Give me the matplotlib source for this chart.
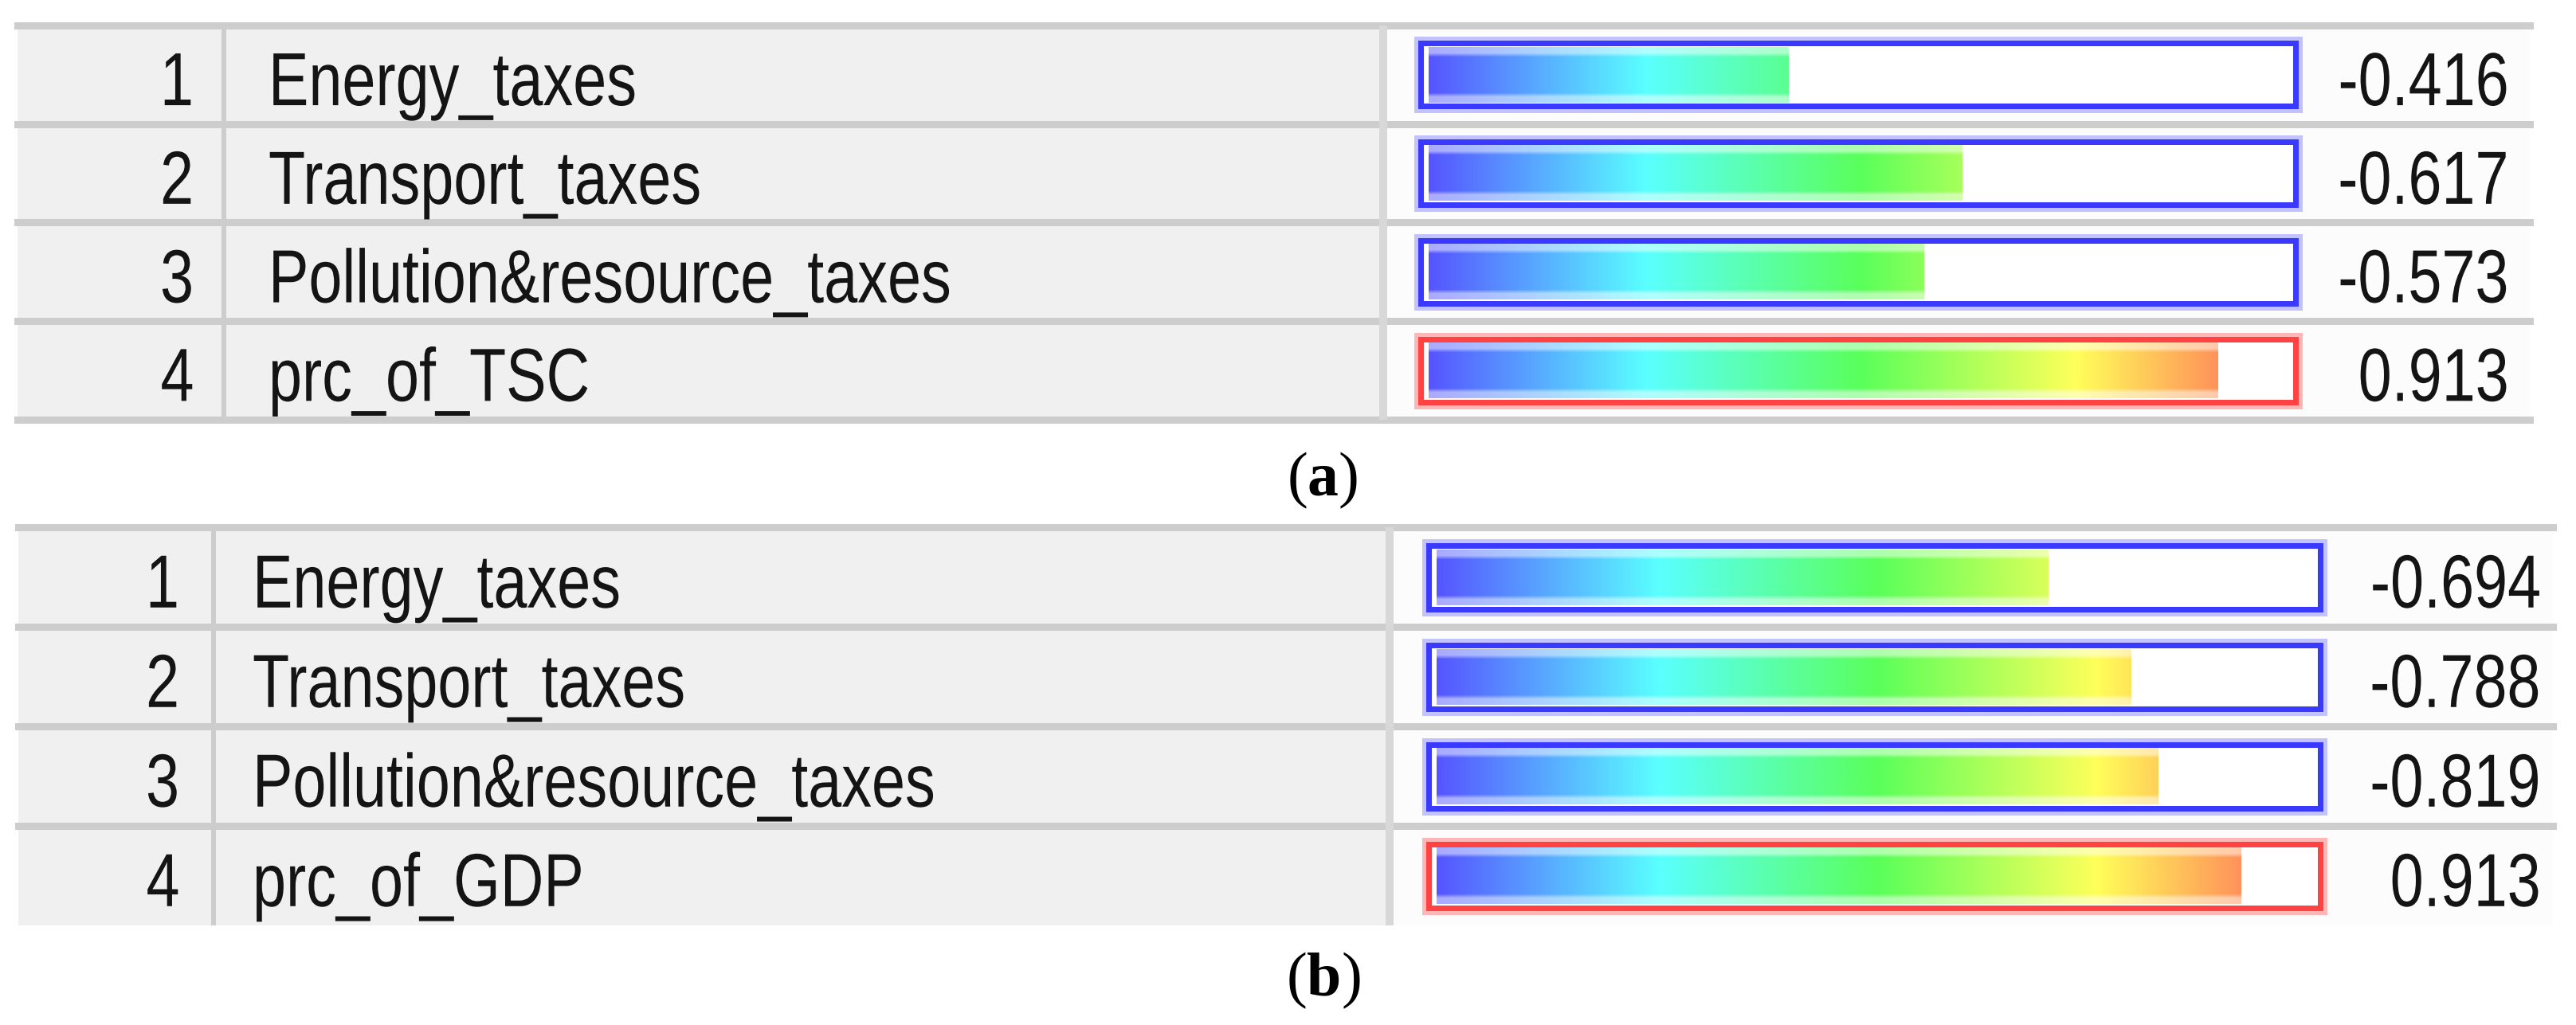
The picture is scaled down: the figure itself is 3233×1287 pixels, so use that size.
import numpy as np
import matplotlib
matplotlib.use('Agg')
import matplotlib.pyplot as plt
from matplotlib.colors import LinearSegmentedColormap
from matplotlib.patches import Rectangle
from matplotlib.patheffects import AbstractPathEffect
from matplotlib.transforms import Affine2D

# ---------------- data ----------------
ranks = [1, 2, 3, 4]
names_a = ['Energy_taxes', 'Transport_taxes', 'Pollution&resource_taxes', 'prc_of_TSC']
values_a = [-0.416, -0.617, -0.573, 0.913]
names_b = ['Energy_taxes', 'Transport_taxes', 'Pollution&resource_taxes', 'prc_of_GDP']
values_b = [-0.694, -0.788, -0.819, 0.913]
captions = ['a', 'b']

# ---------------- setup ----------------
W, H = 3233, 1287
DPI = 100
plt.rcParams['mathtext.fontset'] = 'custom'
plt.rcParams['mathtext.rm'] = 'Liberation Serif'
plt.rcParams['mathtext.bf'] = 'Liberation Serif:bold'
plt.rcParams['mathtext.it'] = 'Liberation Serif:italic'

fig = plt.figure(figsize=(W / DPI, H / DPI), dpi=DPI)
fig.patch.set_facecolor('white')


def px_axes(x0, y0, x1, y1):
    return fig.add_axes([x0 / W, 1 - y1 / H, (x1 - x0) / W, (y1 - y0) / H])


def pt(px):
    return px * 72.0 / DPI


class HScale(AbstractPathEffect):
    """Draw text horizontally condensed (narrow grid font look)."""

    def __init__(self, sx, anchor='left'):
        super().__init__()
        self.sx = sx
        self.anchor = anchor

    def draw_path(self, renderer, gc, tpath, affine, rgbFace=None):
        v = tpath.vertices
        a = 0.0
        if len(v) and self.anchor == 'right':
            a = float(np.nanmax(v[:, 0]))
        pre = Affine2D().translate(-a, 0).scale(self.sx, 1.0).translate(a, 0)
        renderer.draw_path(gc, tpath, pre + affine, rgbFace)


cmap = LinearSegmentedColormap.from_list(
    'grad', [(0, '#5656ff'), (0.25, '#5affff'), (0.5, '#5aff5a'),
             (0.75, '#ffff5a'), (1.0, '#ff5a5a')])

FONT = ['Liberation Sans', 'DejaVu Sans']
FS = 68
SX = 0.80
TXT = '#141414'
SEP = '#cdcdcd'

layouts = [
    dict(left=22, right=3175, top=32, bottom=527, col1=281, col2=1736,
         num_right=244, name_left=337, val_right=3150,
         fill_start=1793, full=1085, bottom_border=True, cap=(1660, 603)),
    dict(left=23, right=3204, top=662, bottom=1162, col1=268, col2=1744,
         num_right=226, name_left=317, val_right=3190,
         fill_start=1803, full=1106, bottom_border=False, cap=(1661, 1231)),
]

panels = [(names_a, values_a), (names_b, values_b)]

for (names, values), L, cap in zip(panels, layouts, captions):
    n = len(names)
    ax = px_axes(L['left'], L['top'], L['right'], L['bottom'])
    ax.set_xlim(L['left'], L['right'])
    ax.set_ylim(n, 0)
    ax.axis('off')
    ax.axvspan(L['left'], L['col2'], color='#f0f0f0', lw=0, zorder=0)
    ax.axvspan(L['col2'], L['right'], color='#fcfcfc', lw=0, zorder=0)
    last = n + 1 if L['bottom_border'] else n
    for k in range(0, last):
        ax.axhline(k, color=SEP, lw=pt(9), clip_on=False, zorder=1)
    ax.axvline(L['col1'], color=SEP, lw=pt(6), zorder=1)
    ax.axvline(L['col2'], color='#d8d8d8', lw=pt(10), zorder=1)

    right_fx = [HScale(SX, 'right')]
    left_fx = [HScale(SX, 'left')]
    for i, (r, nm, v) in enumerate(zip(ranks, names, values)):
        yc = i + 0.53
        ax.text(L['num_right'], yc, str(r), ha='right', va='center_baseline',
                fontsize=FS, family=FONT, color=TXT, zorder=5,
                path_effects=right_fx)
        ax.text(L['name_left'], yc, nm, ha='left', va='center_baseline',
                fontsize=FS, family=FONT, color=TXT, zorder=5,
                path_effects=left_fx)
        ax.text(L['val_right'], yc, f'{v:.3f}', ha='right', va='center_baseline',
                fontsize=FS, family=FONT, color=TXT, zorder=5,
                path_effects=right_fx)

    # bar axes: x in |value| units (0..1)
    pad = 0.03
    bx = px_axes(L['fill_start'] - pad * L['full'], L['top'],
                 L['fill_start'] + (1 + pad) * L['full'], L['bottom'])
    bx.patch.set_alpha(0)
    bx.axis('off')
    for i, v in enumerate(values):
        pos = v > 0
        dark = '#ff4242' if pos else '#3a3aff'
        halo = '#ffb6b6' if pos else '#c2c2ff'
        y0 = i + 0.5 - 0.32
        bx.add_patch(Rectangle((-0.009, y0), 1.012, 0.64, fill=False, ec=halo,
                               lw=pt(17), zorder=1, clip_on=False))
        bx.add_patch(Rectangle((-0.009, y0), 1.012, 0.64, fc='white', ec=dark,
                               lw=pt(7), zorder=2, clip_on=False))
        a = abs(v)
        xs = np.linspace(0, a, 500)
        cols = cmap(xs)[:, :3]
        rows = 14
        img = np.repeat(cols[None, :, :], rows, axis=0)
        white = np.ones(3)
        for rr in (0, 1, rows - 2, rows - 1):
            img[rr] = 0.5 * img[rr] + 0.5 * white
        bx.imshow(img, extent=(0, a, i + 0.5 + 0.28, i + 0.5 - 0.28),
                  aspect='auto', interpolation='bilinear', zorder=3)
    bx.set_xlim(-pad, 1 + pad)
    bx.set_ylim(n, 0)

    fig.text(L['cap'][0] / W, 1 - L['cap'][1] / H, r'$(\mathbf{' + cap + r'})$',
             ha='center', va='center', fontsize=56, color='black')

fig.savefig('out.png', dpi=DPI, facecolor='white')
